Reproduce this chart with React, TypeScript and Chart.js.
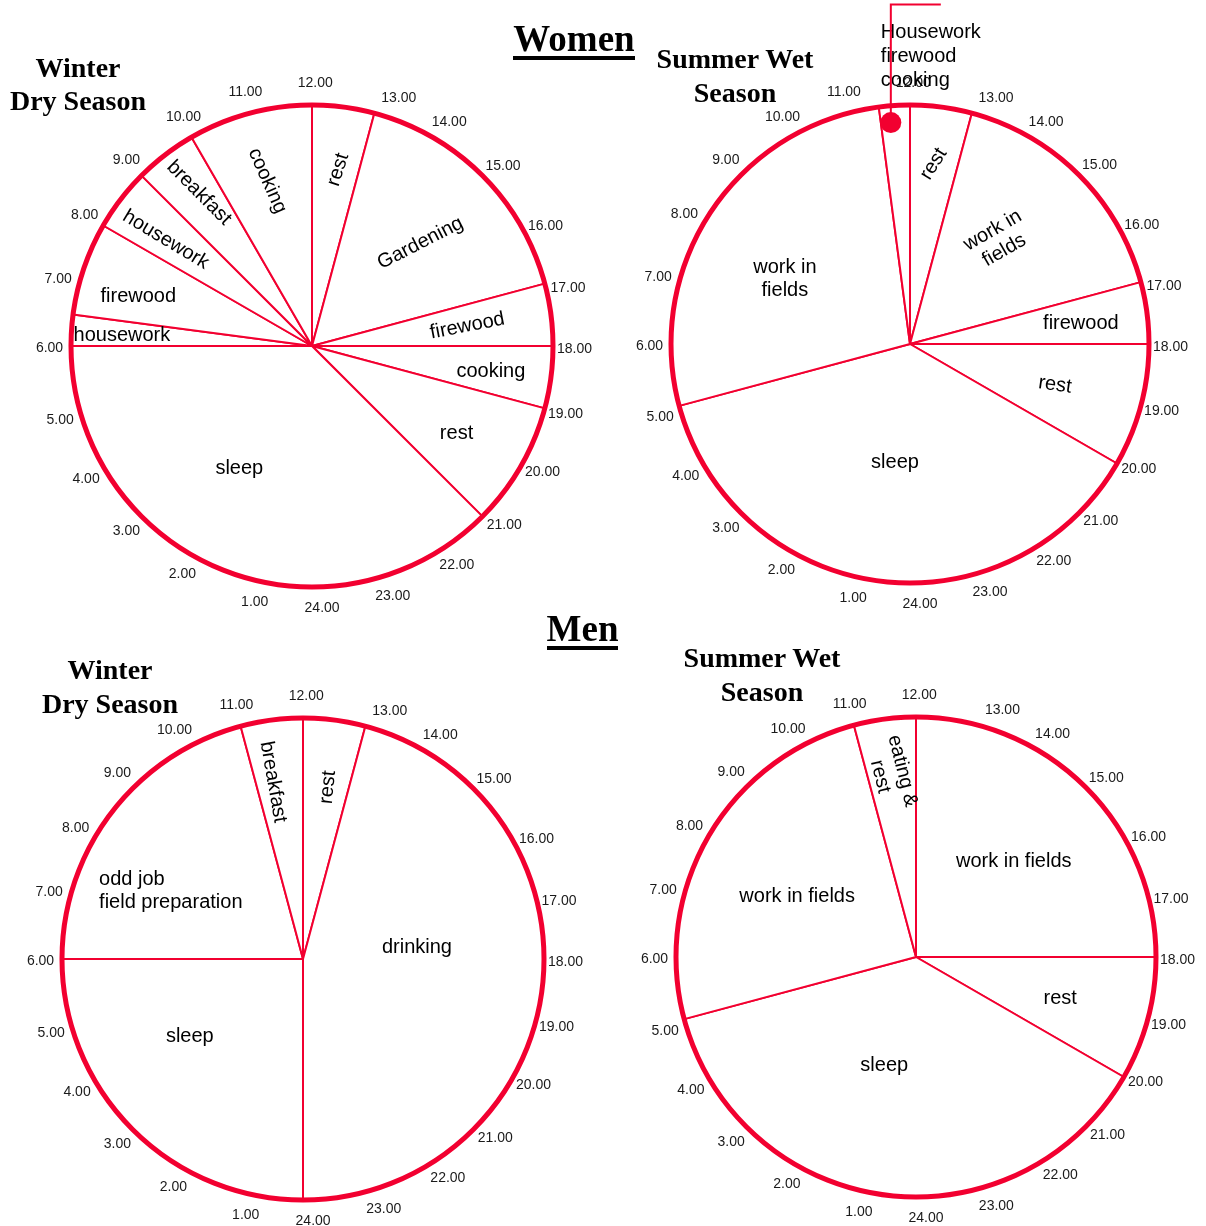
import React, { useEffect, useRef } from 'react';
import { Chart, registerables } from 'chart.js';

Chart.register(...registerables);

// ---------------- DATA ----------------
const hourLabels = [
  '1.00', '2.00', '3.00', '4.00', '5.00', '6.00', '7.00', '8.00', '9.00', '10.00', '11.00', '12.00',
  '13.00', '14.00', '15.00', '16.00', '17.00', '18.00', '19.00', '20.00', '21.00', '22.00', '23.00', '24.00',
];

// every pie starts at 12.00 (top) and runs clockwise; values are hours
const womenWinterActivities = [
  'rest', 'Gardening', 'firewood', 'cooking', 'rest', 'sleep',
  'housework', 'firewood', 'housework', 'breakfast', 'cooking',
];
const womenWinterHours = [1, 4, 1, 1, 2, 9, 0.5, 1.5, 1, 1, 2];

const womenSummerActivities = [
  'rest', 'work in\nfields', 'firewood', 'rest', 'sleep', 'work in\nfields', 'Housework\nfirewood\ncooking',
];
const womenSummerHours = [1, 4, 1, 2, 9, 6.5, 0.5];

const menWinterActivities = ['rest', 'drinking', 'sleep', 'odd job\nfield preparation', 'breakfast'];
const menWinterHours = [1, 11, 6, 5, 1];

const menSummerActivities = ['work in fields', 'rest', 'sleep', 'work in fields', 'eating &\nrest'];
const menSummerHours = [6, 2, 9, 6, 1];

// ---------------- STYLE / LAYOUT ----------------
const RED = '#F20030';
const SANS = '"Liberation Sans", Arial, Helvetica, sans-serif';
const SERIF = '"Liberation Serif", "Times New Roman", Times, serif';

// small angular nudges (degrees) of the hour-label placement, same order as hourLabels
const hourLabelNudgeDeg = [
  -2.4, -0.4, 0, -0.6, -1.4, -0.4, -0.2, 0, 0, 0.7, 0.3, 0.7,
  4.3, 1.5, 1.7, 2.8, 2.2, 0.6, 0, -1.4, -2.1, -3.5, -2.9, -2.2,
];

type LabelPos = { h: number; r: number; rot?: number; align?: 'left' | 'center'; callout?: boolean };

const wwLayout: LabelPos[] = [
  { h: 12.56, r: 0.74, rot: -72 },
  { h: 15.1, r: 0.62, rot: -27 },
  { h: 17.51, r: 0.65, rot: -11 },
  { h: 18.55, r: 0.75 },
  { h: 20.07, r: 0.7 },
  { h: 2.05, r: 0.59 },
  { h: 6.22, r: 0.79 },
  { h: 7.07, r: 0.75 },
  { h: 8.4, r: 0.75, rot: 31 },
  { h: 9.57, r: 0.79, rot: 45 },
  { h: 10.99, r: 0.71, rot: 66 },
];
const wsLayout: LabelPos[] = [
  { h: 12.5, r: 0.76, rot: -58 },
  { h: 14.7, r: 0.57, rot: -30 },
  { h: 17.55, r: 0.72 },
  { h: 19.05, r: 0.63, rot: 8 },
  { h: 0.48, r: 0.5 },
  { h: 7.83, r: 0.59 },
  { h: 11.67, r: 0.93, callout: true },
];
const mwLayout: LabelPos[] = [
  { h: 12.55, r: 0.72, rot: -84 },
  { h: 17.63, r: 0.475 },
  { h: 3.7, r: 0.57 },
  { h: 7.23, r: 0.892, align: 'left' },
  { h: 11.36, r: 0.745, rot: 80 },
];
const msLayout: LabelPos[] = [
  { h: 15.04, r: 0.57 },
  { h: 19.06, r: 0.625 },
  { h: 1.09, r: 0.47 },
  { h: 7.79, r: 0.555 },
  { h: 11.49, r: 0.77, rot: 76 },
];

type PieSpec = {
  key: string;
  box: { left: number; top: number; width: number; height: number };
  center: { x: number; y: number };
  radius: number;
  activities: string[];
  hours: number[];
  layout: LabelPos[];
  title: string[];
  titleX: number;
  titleTop: number;
};

const PIES: PieSpec[] = [
  {
    key: 'ww', box: { left: 0, top: 0, width: 603, height: 615 }, center: { x: 312, y: 346 }, radius: 241,
    activities: womenWinterActivities, hours: womenWinterHours, layout: wwLayout,
    title: ['Winter', 'Dry Season'], titleX: 78, titleTop: 50.5,
  },
  {
    key: 'ws', box: { left: 603, top: 0, width: 603, height: 615 }, center: { x: 910, y: 344 }, radius: 239,
    activities: womenSummerActivities, hours: womenSummerHours, layout: wsLayout,
    title: ['Summer Wet', 'Season'], titleX: 735, titleTop: 42,
  },
  {
    key: 'mw', box: { left: 0, top: 615, width: 603, height: 611 }, center: { x: 303, y: 959 }, radius: 241,
    activities: menWinterActivities, hours: menWinterHours, layout: mwLayout,
    title: ['Winter', 'Dry Season'], titleX: 110, titleTop: 653,
  },
  {
    key: 'ms', box: { left: 603, top: 615, width: 603, height: 611 }, center: { x: 916, y: 957 }, radius: 240,
    activities: menSummerActivities, hours: menSummerHours, layout: msLayout,
    title: ['Summer Wet', 'Season'], titleX: 762, titleTop: 641,
  },
];

function clockPlugin(spec: PieSpec) {
  return {
    id: 'clock_' + spec.key,
    afterDatasetsDraw(chart: any) {
      const meta = chart.getDatasetMeta(0);
      const arcs = meta.data as any[];
      if (!arcs.length) return;
      const a0 = arcs[0];
      const cx = a0.x;
      const cy = a0.y;
      const R = a0.outerRadius;
      const base = a0.startAngle; // angle of 12.00
      const ang = (h: number) => base + ((((h - 12) % 24) + 24) % 24) / 24 * Math.PI * 2;
      const ctx: CanvasRenderingContext2D = chart.ctx;
      ctx.save();

      // thick outer ring
      ctx.beginPath();
      ctx.arc(cx, cy, R, 0, Math.PI * 2);
      ctx.lineWidth = 5;
      ctx.strokeStyle = RED;
      ctx.stroke();

      // hour labels
      ctx.font = '14px ' + SANS;
      ctx.fillStyle = '#1a1a1a';
      ctx.textAlign = 'center';
      ctx.textBaseline = 'middle';
      hourLabels.forEach((t, i) => {
        const a = ang(parseFloat(t)) + (hourLabelNudgeDeg[i] * Math.PI) / 180;
        ctx.fillText(t, cx + Math.cos(a) * (R + 21.5), cy + Math.sin(a) * (R + 21.5));
      });

      // segment labels
      ctx.font = '20px ' + SANS;
      ctx.fillStyle = '#000';
      spec.activities.forEach((text, i) => {
        const lay = spec.layout[i];
        if (!lay) return;
        const a = ang(lay.h);
        const px = cx + Math.cos(a) * lay.r * R;
        const py = cy + Math.sin(a) * lay.r * R;
        const lines = text.split('\n');
        if (lay.callout) {
          const lx = px - 10;
          const ly = py - 90;
          ctx.textAlign = 'left';
          ctx.textBaseline = 'middle';
          lines.forEach((ln, j) => ctx.fillText(ln, lx, ly + j * 24));
          ctx.beginPath();
          ctx.moveTo(px, py);
          ctx.lineTo(px, py - 118);
          ctx.lineTo(px + 50, py - 118);
          ctx.lineWidth = 2;
          ctx.strokeStyle = RED;
          ctx.stroke();
          ctx.beginPath();
          ctx.arc(px, py, 10.5, 0, Math.PI * 2);
          ctx.fillStyle = RED;
          ctx.fill();
          ctx.fillStyle = '#000';
          return;
        }
        ctx.save();
        ctx.translate(px, py);
        ctx.rotate(((lay.rot || 0) * Math.PI) / 180);
        ctx.textAlign = lay.align || 'center';
        ctx.textBaseline = 'middle';
        const lh = 23;
        lines.forEach((ln, j) => ctx.fillText(ln, 0, (j - (lines.length - 1) / 2) * lh));
        ctx.restore();
      });

      ctx.restore();
    },
  };
}

function ClockPie({ spec }: { spec: PieSpec }) {
  const ref = useRef<HTMLCanvasElement | null>(null);
  useEffect(() => {
    if (!ref.current) return;
    const W = spec.box.width;
    const H = spec.box.height;
    const lx = spec.center.x - spec.box.left;
    const ly = spec.center.y - spec.box.top;
    const padding = {
      left: Math.max(0, 2 * lx - W),
      right: Math.max(0, W - 2 * lx),
      top: Math.max(0, 2 * ly - H),
      bottom: Math.max(0, H - 2 * ly),
    };
    const chart = new Chart(ref.current, {
      type: 'pie',
      data: {
        labels: spec.activities,
        datasets: [
          {
            data: spec.hours,
            backgroundColor: '#ffffff',
            borderColor: RED,
            borderWidth: 2,
            hoverOffset: 0,
            radius: spec.radius,
          } as any,
        ],
      },
      options: {
        responsive: false,
        animation: false,
        events: [],
        radius: spec.radius,
        layout: { padding },
        plugins: {
          legend: { display: false },
          tooltip: { enabled: false },
          title: { display: false },
        },
      } as any,
      plugins: [clockPlugin(spec) as any],
    });
    return () => chart.destroy();
  }, [spec]);
  return (
    <canvas
      ref={ref}
      width={spec.box.width}
      height={spec.box.height}
      style={{
        position: 'absolute',
        left: spec.box.left,
        top: spec.box.top,
        width: spec.box.width,
        height: spec.box.height,
      }}
    />
  );
}

export default function App() {
  return (
    <div
      style={{
        position: 'absolute',
        left: 0,
        top: 0,
        width: 1206,
        height: 1226,
        overflow: 'hidden',
        background: '#ffffff',
      }}
    >
      {PIES.map((p) => (
        <ClockPie key={p.key} spec={p} />
      ))}
      {PIES.map((p) => (
        <div
          key={'t' + p.key}
          style={{
            position: 'absolute',
            left: p.titleX - 150,
            top: p.titleTop,
            width: 300,
            textAlign: 'center',
            fontFamily: SERIF,
            fontWeight: 'bold',
            fontSize: 28,
            lineHeight: '33.5px',
            color: '#000',
            whiteSpace: 'pre',
          }}
        >
          {p.title.map((t, i) => (
            <div key={i}>{t}</div>
          ))}
        </div>
      ))}
      <div
        style={{
          position: 'absolute', left: 474, top: 17.3, width: 200, textAlign: 'center',
          fontFamily: SERIF, fontWeight: 'bold', fontSize: 37, color: '#000',
        }}
      >
        <span style={{ display: 'inline-block', lineHeight: '35px', borderBottom: '4px solid #000' }}>Women</span>
      </div>
      <div
        style={{
          position: 'absolute', left: 482.5, top: 606.7, width: 200, textAlign: 'center',
          fontFamily: SERIF, fontWeight: 'bold', fontSize: 37, color: '#000',
        }}
      >
        <span style={{ display: 'inline-block', lineHeight: '35px', borderBottom: '4px solid #000' }}>Men</span>
      </div>
    </div>
  );
}
